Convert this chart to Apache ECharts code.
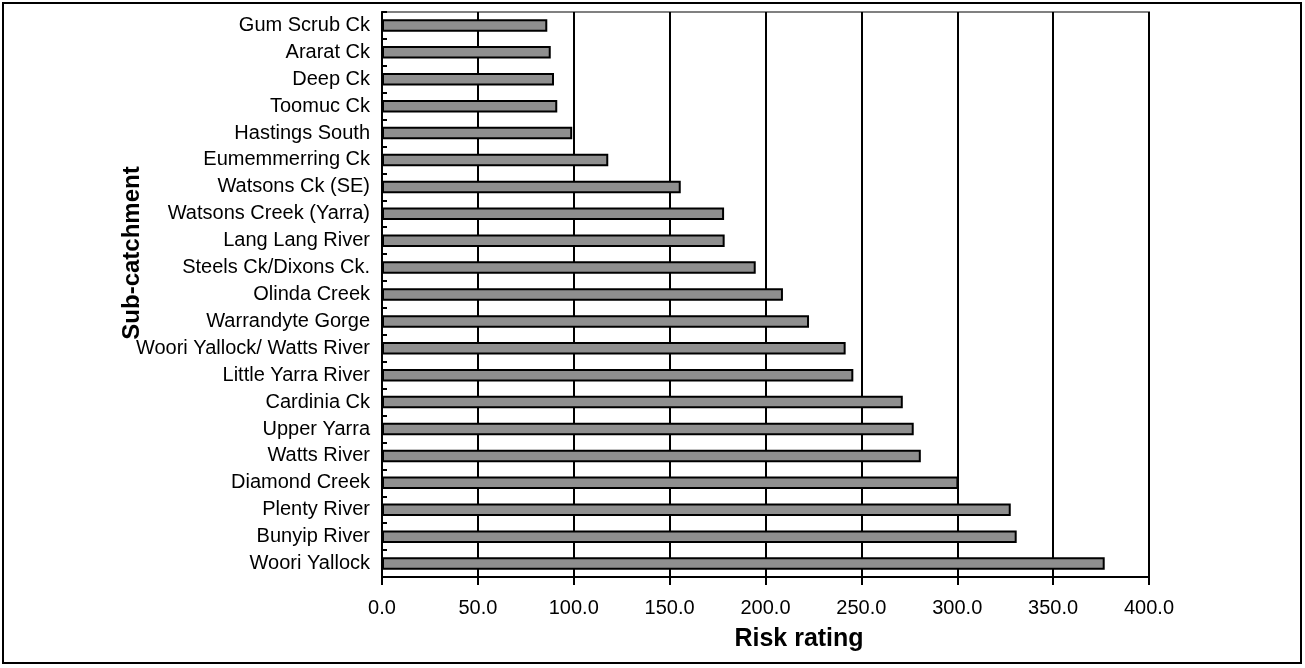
<!DOCTYPE html>
<html>
<head>
<meta charset="utf-8">
<script src="https://cdn.jsdelivr.net/npm/echarts@6/dist/echarts.min.js"></script>
<style>
html,body{margin:0;padding:0;background:#fff;}
#chart{width:1305px;height:668px;}
</style>
</head>
<body>
<div id="chart"></div>
<script>
var categories = ["Gum Scrub Ck","Ararat Ck","Deep Ck","Toomuc Ck","Hastings South","Eumemmerring Ck","Watsons Ck (SE)","Watsons Creek (Yarra)","Lang Lang River","Steels Ck/Dixons Ck.","Olinda Creek","Warrandyte Gorge","Woori Yallock/ Watts River","Little Yarra River","Cardinia Ck","Upper Yarra","Watts River","Diamond Creek","Plenty River","Bunyip River","Woori Yallock"];
var riskValues = [86.2,88.0,89.7,91.4,99.2,118.0,155.8,178.4,178.7,194.9,209.1,222.7,241.8,245.8,271.6,277.3,281.0,300.6,327.9,331.0,376.9];
var xTicks = {min:0, max:400, interval:50};
var xAxisTitle = "Risk rating";
var yAxisTitle = "Sub-catchment";

var FONT = "'Liberation Sans', Arial, sans-serif";
var chart = echarts.init(document.getElementById('chart'), null, {renderer:'canvas'});
chart.setOption({
  animation:false,
  backgroundColor:'#ffffff',
  grid:{left:382, right:156, top:12, bottom:91, show:true, borderColor:'#808080', borderWidth:2, backgroundColor:'transparent'},
  xAxis:{
    type:'value', min:xTicks.min, max:xTicks.max, interval:xTicks.interval,
    axisLine:{show:true, lineStyle:{color:'#000', width:2}},
    axisTick:{show:true, inside:false, length:8, lineStyle:{color:'#000', width:2}},
    splitLine:{show:true, lineStyle:{color:'#000', width:2}},
    axisLabel:{color:'#000', fontFamily:FONT, fontSize:20, margin:21, formatter:function(v){return v.toFixed(1);}}
  },
  yAxis:{
    type:'category', data:categories, inverse:true,
    axisLine:{show:true, lineStyle:{color:'#000', width:2}},
    axisTick:{show:true, inside:true, length:5, lineStyle:{color:'#000', width:2}},
    splitLine:{show:false},
    axisLabel:{color:'#000', fontFamily:FONT, fontSize:20, margin:12}
  },
  series:[{
    type:'bar', data:riskValues, barWidth:12.5,
    itemStyle:{color:'#8f8f8f', borderColor:'#000', borderWidth:2}
  }],
  graphic:[
    {type:'rect', shape:{x:3, y:3, width:1298, height:660}, style:{fill:'none', stroke:'#000', lineWidth:2}, z:-1},
    {type:'text', x:799, y:639, style:{text:xAxisTitle, fontFamily:FONT, fontWeight:'bold', fontSize:25, fill:'#000', align:'center', verticalAlign:'middle'}},
    {type:'text', x:132, y:253, rotation:Math.PI/2, style:{text:yAxisTitle, fontFamily:FONT, fontWeight:'bold', fontSize:24, fill:'#000', align:'center', verticalAlign:'middle'}}
  ]
});
</script>
</body>
</html>
